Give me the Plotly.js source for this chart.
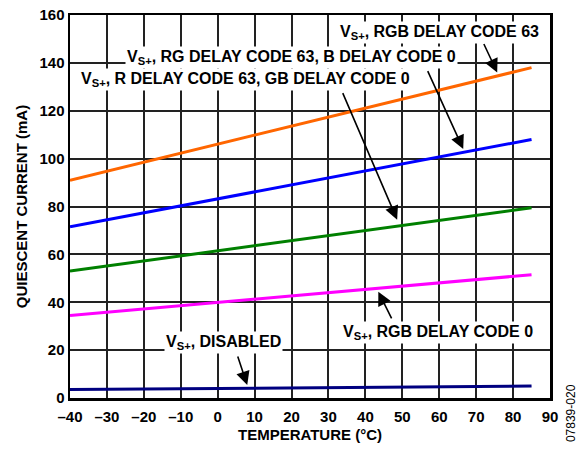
<!DOCTYPE html>
<html>
<head>
<meta charset="utf-8">
<script src="https://cdn.plot.ly/plotly-3.0.1.min.js"></script>
<style>html,body{margin:0;padding:0;background:#fff;}#chart{width:584px;height:449px;}</style>
</head>
<body>
<div id="chart"></div>
<script>
const temperature = [-40, 85];
const rgbCode63 = [91, 138];
const rgCode63bCode0 = [71.5, 108];
const rCode63gbCode0 = [53, 79.5];
const rgbCode0 = [34.5, 51.5];
const disabled = [3.5, 5];
const seriesColors = ['#ff6600', '#0000ff', '#008000', '#ff00ff', '#000080'];
const xTickVals = [-40, -30, -20, -10, 0, 10, 20, 30, 40, 50, 60, 70, 80, 90];
const xTickText = ['–40', '–30', '–20', '–10', '0', '10', '20', '30', '40', '50', '60', '70', '80', '90'];
const yTickVals = [0, 20, 40, 60, 80, 100, 120, 140, 160];

const series = [rgbCode63, rgCode63bCode0, rCode63gbCode0, rgbCode0, disabled];
const traces = series.map((s, i) => ({
  x: temperature, y: s, type: 'scatter', mode: 'lines',
  line: {color: seriesColors[i], width: 3}, hoverinfo: 'skip'
}));

const fam = '"Liberation Sans", Arial, sans-serif';
const font = {family: fam, size: 15, color: '#000'};
const labelFont = {family: fam, size: 16, color: '#000'};
const bold = t => '<b>' + t + '</b>';
function label(text, x, y) {
  return {text: bold(text), x: x, y: y, xref: 'x', yref: 'y', showarrow: false,
    bgcolor: '#fff', borderpad: 1, font: labelFont};
}
function arrow(x, y, ax, ay) {
  return {text: '', x: x, y: y, ax: ax, ay: ay, xref: 'x', yref: 'y', axref: 'x', ayref: 'y',
    showarrow: true, arrowhead: 2, arrowsize: 1.7, arrowwidth: 1.6, arrowcolor: '#000', standoff: 0, startstandoff: 0};
}
const annotations = [
  label('V<sub>S+</sub>, RGB DELAY CODE 63', 60, 152.7),
  arrow(75.7, 136, 71.9, 148.5),
  label('V<sub>S+</sub>, RG DELAY CODE 63, B DELAY CODE 0', 19.9, 142.3),
  arrow(66.5, 104, 56.7, 137.2),
  label('V<sub>S+</sub>, R DELAY CODE 63, GB DELAY CODE 0', 7.4, 133),
  arrow(48.6, 74.5, 33.7, 128),
  label('V<sub>S+</sub>, RGB DELAY CODE 0', 59.6, 27.2),
  arrow(43.5, 44.4, 47.3, 32.6),
  label('V<sub>S+</sub>, DISABLED', 1.7, 23),
  arrow(8, 5.4, 5.3, 18),
  {text: '07839-020', xref: 'paper', yref: 'paper', x: 1.044, y: -0.12, textangle: -90,
    showarrow: false, xanchor: 'center', yanchor: 'bottom',
    font: {family: fam, size: 12, color: '#000'}}
];

const axisCommon = {
  showgrid: true, gridcolor: '#222', gridwidth: 2,
  showline: true, linecolor: '#000', linewidth: 2.5, mirror: true,
  zeroline: false, ticks: '',
  tickfont: {family: fam, size: 15, color: '#000', weight: 'bold'}
};

const layout = {
  width: 584, height: 449,
  margin: {l: 70, r: 34, t: 15, b: 51},
  paper_bgcolor: '#fff', plot_bgcolor: '#fff',
  showlegend: false,
  font: font,
  xaxis: Object.assign({}, axisCommon, {
    range: [-40, 90], tickvals: xTickVals, ticktext: xTickText, ticklabelstandoff: 3,
    title: {text: bold('TEMPERATURE (°C)'), font: font, standoff: 6}
  }),
  yaxis: Object.assign({}, axisCommon, {
    range: [0, 160], tickvals: yTickVals,
    title: {text: bold('QUIESCENT CURRENT (mA)'), font: font, standoff: 8}
  }),
  annotations: annotations
};

Plotly.newPlot('chart', traces, layout, {displayModeBar: false, staticPlot: true});
</script>
</body>
</html>
